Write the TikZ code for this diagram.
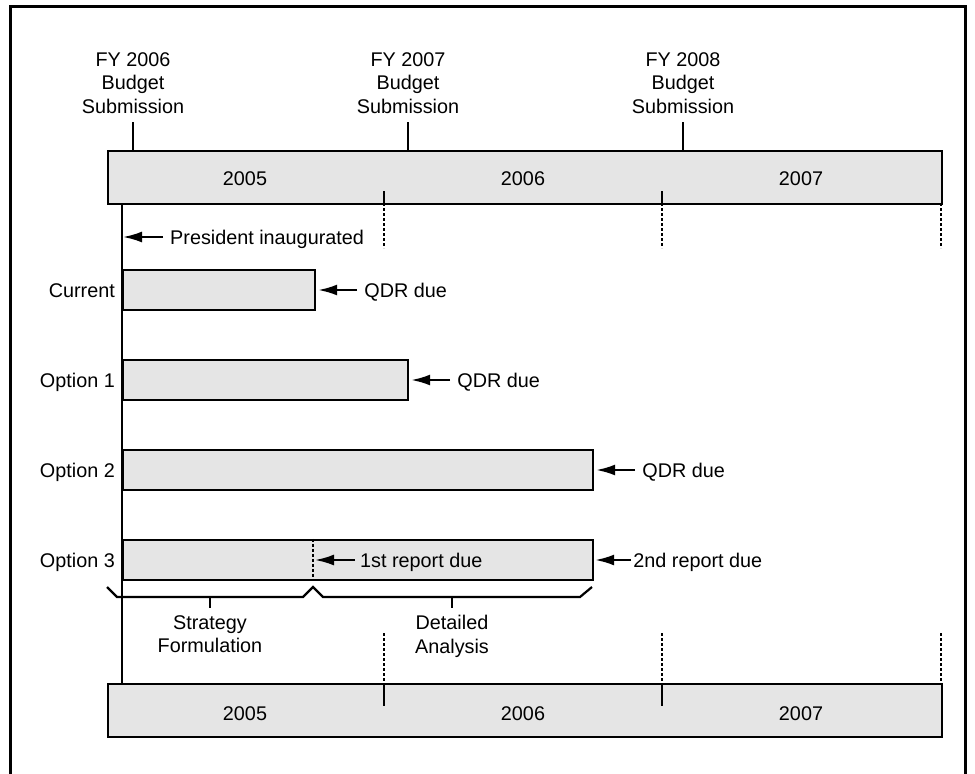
\documentclass[tikz,border=0pt]{standalone}
\usepackage{fontspec}
\setmainfont{Liberation Sans}
\usetikzlibrary{positioning,arrows.meta}

\tikzset{
	every node/.style={font=\fontsize{19.8}{23.5}\selectfont, inner sep=0pt},
	lbl/.style={text height=14pt, text depth=0pt},
	yearbar/.style={draw, fill=black!10, line width=2.2pt, anchor=north west, minimum height=53pt, minimum width=834pt},
	ganttbar/.style={draw, fill=black!10, line width=2.2pt, anchor=west, minimum height=40pt},
	pointer/.style={line width=2.2pt, -{Latex[length=19pt,width=11pt]}},
	tick/.style={line width=2.2pt},
	dashtick/.style={line width=1.7pt, dash pattern=on 3pt off 2pt},
}

\begin{document}
\begin{tikzpicture}[x=1pt,y=-1pt]
\useasboundingbox (0,0) rectangle (975,774);
\def\tl{122}
\def\topy{150}
\def\boty{683}

% frame
\draw[line width=2.5pt] (10.5,790) -- (10.5,6.5) -- (965.5,6.5) -- (965.5,790);

% year bars
\node[yearbar] (topbar) at (107,\topy) {};
\node[yearbar] (botbar) at (107,\boty) {};
\foreach \yr/\xm in {2005/245,2006/523,2007/801}
	{
	\node[lbl] (top\yr) at (\xm,178.5) {\yr};
	\node[lbl] (bot\yr) at (\xm,713) {\yr};
	}
\foreach \xt in {384,662}
	{
	\draw[tick] (\xt,191) -- (\xt,203);
	\draw[dashtick] (\xt,203) -- (\xt,248);
	\draw[dashtick] (\xt,633) -- (\xt,683);
	\draw[tick] (\xt,683) -- (\xt,706);
	}
\draw[dashtick] (941,203) -- (941,248);
\draw[dashtick] (941,633) -- (941,683);

% budget submissions
\foreach \fy/\xm in {2006/133,2007/408,2008/683}
	{
	\node[align=center, anchor=north] (fy\fy) at (\xm,52) {FY \fy\\Budget\\Submission};
	\draw[tick, shorten <=9pt] (fy\fy.south) -- (fy\fy.south |- topbar.north);
	}

% time line
\coordinate (tl) at (\tl,0);
\draw[tick] (tl |- topbar.south) -- (tl |- botbar.north);
\coordinate (inaug) at (\tl,237);
\node[lbl, right=48pt of inaug] (inaugtxt) {President inaugurated};
\draw[pointer, shorten <=7pt, shorten >=1pt] (inaugtxt.west) -- (inaug);

% review options
\foreach \nm/\lab/\yc/\xe in {cur/Current/290/314, opta/Option 1/380/407, optb/Option 2/470/592, optc/Option 3/560/592}
	{
	\pgfmathsetmacro\barw{\xe-\tl}
	\node[ganttbar, minimum width=\barw pt] (\nm) at (\tl,\yc) {};
	\node[lbl, left=7pt of \nm] (\nm lbl) {\lab};
	}
\foreach \nm in {cur,opta,optb}
	{
	\node[lbl, right=48pt of \nm] (\nm due) {QDR due};
	\draw[pointer, shorten <=7pt, shorten >=2pt] (\nm due.west) -- (\nm.east);
	}
\coordinate (first) at (313,560);
\draw[dashtick] (first |- optc.north) -- (first |- optc.south);
\node[lbl, right=47pt of first] (firstdue) {1st report due};
\draw[pointer, shorten <=5pt, shorten >=2pt] (firstdue.west) -- (first);
\node[lbl, right=39pt of optc] (seconddue) {2nd report due};
\draw[pointer, shorten <=2pt, shorten >=1pt] (seconddue.west) -- (optc.east);

% phases of option 3
\draw[tick] (107,587) -- (117,597) -- (303,597) -- (313,587) -- (323,597) -- (580,597) -- (592,587);
\node[align=center, anchor=north] (strat) at (210,615) {Strategy\\Formulation};
\node[align=center, anchor=north] (detail) at (452,615) {Detailed\\Analysis};
\draw[tick, shorten >=7pt] (strat.north |- 0,597) -- (strat.north);
\draw[tick, shorten >=7pt] (detail.north |- 0,597) -- (detail.north);

\end{tikzpicture}
\end{document}
